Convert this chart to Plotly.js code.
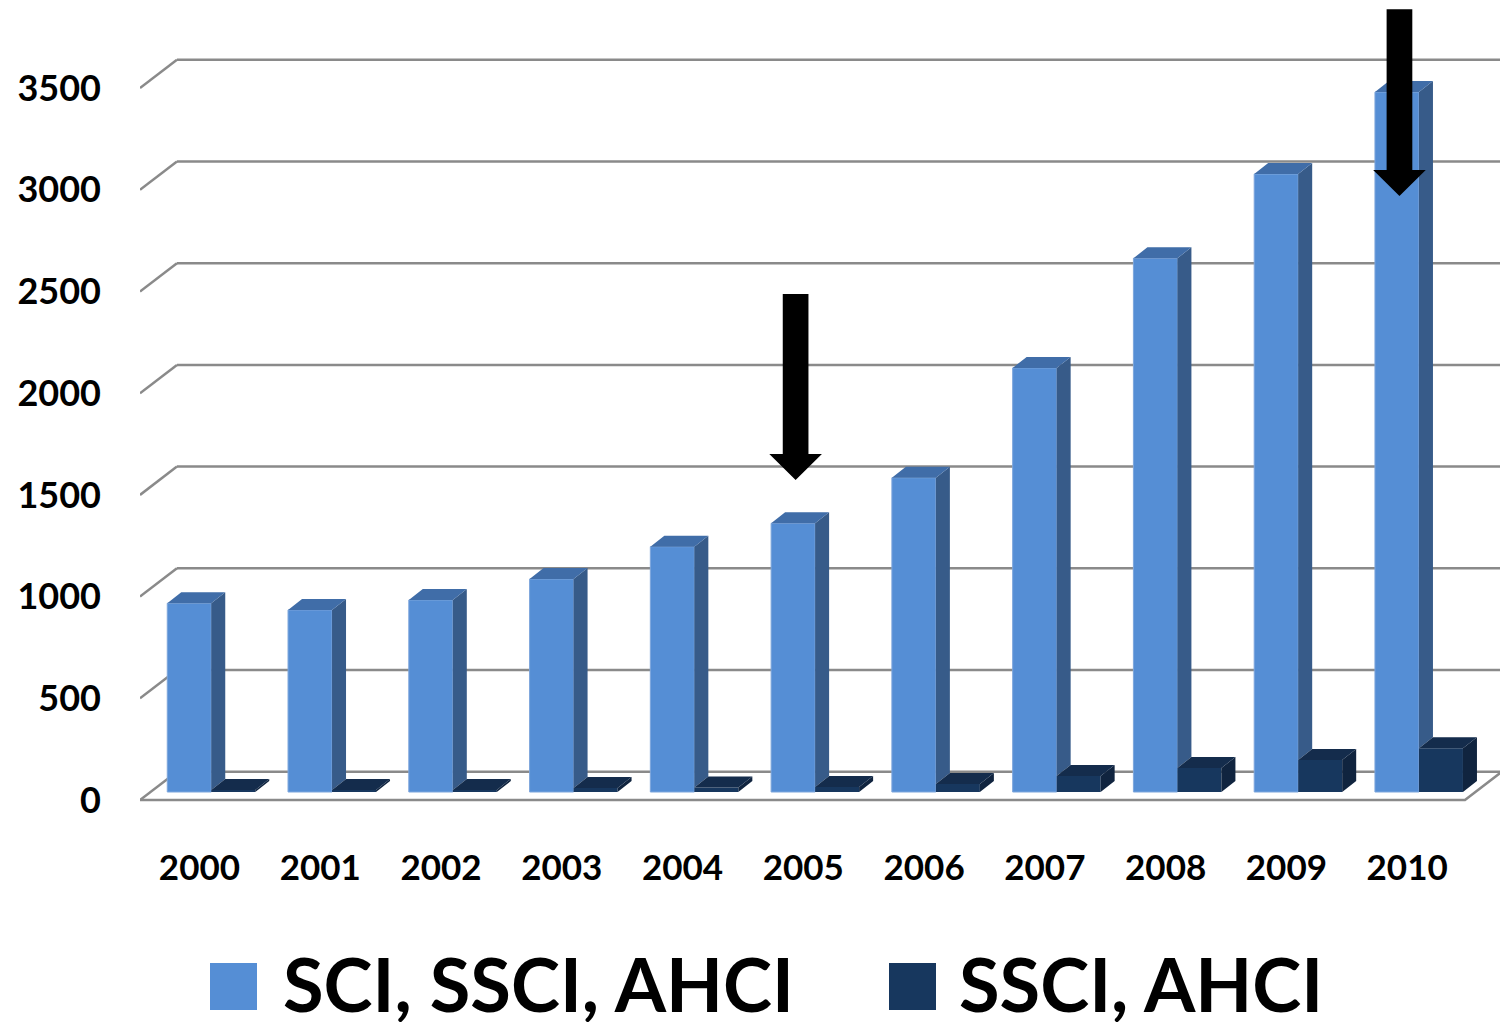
<!DOCTYPE html>
<html>
<head>
<meta charset="utf-8">
<script src="https://cdn.plot.ly/plotly-3.0.1.min.js"></script>
<style>html,body{margin:0;padding:0;background:#fff;}#chart{width:1500px;height:1022px;}</style>
</head>
<body>
<div id="chart"></div>
<script>
// ---- data ----
const years = ['2000','2001','2002','2003','2004','2005','2006','2007','2008','2009','2010'];
const allIndexes = [928, 895, 944, 1047, 1206, 1321, 1545, 2085, 2624, 3038, 3441];   // SCI, SSCI, AHCI
const socialIndexes = [10, 10, 10, 20, 22, 25, 39, 79, 118, 157, 215];               // SSCI, AHCI
const seriesNames = ['SCI, SSCI, AHCI', 'SSCI, AHCI'];
const yTicks = [0, 500, 1000, 1500, 2000, 2500, 3000, 3500];
const arrowYears = ['2005', '2010'];
const arrowTop = [2448, 3848];
const arrowTip = [1534, 2930];

// ---- style / geometry (pseudo-3D) ----
const PX_PER_CAT = 120.77, PX_PER_UNIT = 0.2034;
const X_MIN = -0.590, X_MAX = 10.671, Y_MIN = -186.8, Y_MAX = 3893.8;
const BAR_W = 44 / PX_PER_CAT;
const DX = 14 / PX_PER_CAT, DY = 11 / PX_PER_UNIT;          // bar depth
const FRONT_DV = -8 / PX_PER_UNIT;                          // floor front plane
const WALL_DV = 20.3 / PX_PER_UNIT;                         // back wall plane
const X_WALL_LEFT = (177 - 211.3) / PX_PER_CAT;
const X_FRONT_RIGHT = (1465 - 211.3) / PX_PER_CAT;
const LABEL_DX = -11.8 / PX_PER_CAT;
const ARROW_DX = -19.5 / PX_PER_CAT;
const SHAFT_HW = 12.85 / PX_PER_CAT, HEAD_HW = 26.3 / PX_PER_CAT, HEAD_LEN = 26 / PX_PER_UNIT;

const C = {
  blueFront: '#558ED5', blueSide: '#375B89', blueTop: '#406DA8',
  darkFront: '#17375E', darkSide: '#10243F', darkTop: '#142C4C',
  grid: '#8A8A8A'
};
const FONT = 'Lato, "Open Sans", sans-serif';
const idx = years.map((_, i) => i);

function polyTrace(polys, color) {
  const x = [], y = [];
  polys.forEach(p => { p.forEach(pt => { x.push(pt[0]); y.push(pt[1]); }); x.push(p[0][0]); y.push(p[0][1]); x.push(null); y.push(null); });
  return { type: 'scatter', mode: 'lines', x, y, fill: 'toself', fillcolor: color,
           line: { width: 0, color: color }, hoverinfo: 'skip', showlegend: false, connectgaps: false };
}

const blueSide = idx.map(i => { const xr = i, d = socialIndexes[i], v = allIndexes[i];
  return [[xr, d], [xr + DX, d + DY], [xr + DX, v + DY], [xr, v]]; });
const blueTop = idx.map(i => { const xl = i - BAR_W, v = allIndexes[i];
  return [[xl, v], [xl + BAR_W, v], [xl + BAR_W + DX, v + DY], [xl + DX, v + DY]]; });
const darkSide = idx.map(i => { const xr = i + BAR_W, d = socialIndexes[i];
  return [[xr, 0], [xr + DX, DY], [xr + DX, d + DY], [xr, d]]; });
const darkTop = idx.map(i => { const xl = i, d = socialIndexes[i];
  return [[xl, d], [xl + BAR_W, d], [xl + BAR_W + DX, d + DY], [xl + DX, d + DY]]; });

const data = [
  { type: 'bar', name: seriesNames[0], x: idx, y: allIndexes, width: BAR_W, offset: -BAR_W,
    marker: { color: C.blueFront, line: { width: 1, color: '#7DA6DC' } }, showlegend: false },
  { type: 'bar', name: seriesNames[1], x: idx, y: socialIndexes, width: BAR_W, offset: 0,
    marker: { color: C.darkFront, line: { width: 0 } }, showlegend: false },
  polyTrace(blueSide, C.blueSide),
  polyTrace(blueTop, C.blueTop),
  polyTrace(darkSide, C.darkSide),
  polyTrace(darkTop, C.darkTop)
];

// gridlines (walls)
const shapes = [];
const gl = { color: C.grid, width: 2.5 };
yTicks.forEach(t => {
  shapes.push({ type: 'line', layer: 'below', xref: 'x', yref: 'y', x0: X_WALL_LEFT, x1: X_MAX + 0.05, y0: t + WALL_DV, y1: t + WALL_DV, line: gl });
  shapes.push({ type: 'line', layer: 'below', xref: 'x', yref: 'y', x0: X_MIN, x1: X_WALL_LEFT, y0: t + FRONT_DV, y1: t + WALL_DV, line: gl });
});
shapes.push({ type: 'path', layer: 'below', xref: 'x', yref: 'y',
  path: `M${X_MIN},${FRONT_DV} L${X_FRONT_RIGHT},${FRONT_DV} L${X_FRONT_RIGHT + (X_WALL_LEFT - X_MIN)},${WALL_DV}`, line: gl });

// arrows
arrowYears.forEach((yr, k) => {
  const cx = years.indexOf(yr) + ARROW_DX, top = arrowTop[k], tip = arrowTip[k], hb = tip + HEAD_LEN;
  const p = `M${cx - SHAFT_HW},${top} L${cx + SHAFT_HW},${top} L${cx + SHAFT_HW},${hb} L${cx + HEAD_HW},${hb} L${cx},${tip} L${cx - HEAD_HW},${hb} L${cx - SHAFT_HW},${hb} Z`;
  shapes.push({ type: 'path', layer: 'above', xref: 'x', yref: 'y', path: p, fillcolor: '#000', line: { width: 0 } });
});

// custom legend
const px2x = px => (px - 140) / 1360, py2y = py => (830 - py) / 830;
const legendColors = [C.blueFront, C.darkFront];
const legSq = [210, 889], legTx = [281, 957];
const annotations = [];
seriesNames.forEach((nm, k) => {
  shapes.push({ type: 'rect', xref: 'paper', yref: 'paper', x0: px2x(legSq[k]), x1: px2x(legSq[k] + 47),
    y0: py2y(1010), y1: py2y(963), fillcolor: legendColors[k], line: { width: 0 } });
  annotations.push({ xref: 'paper', yref: 'paper', x: px2x(legTx[k]), y: py2y(983), xanchor: 'left', yanchor: 'middle',
    text: nm, showarrow: false, font: { family: FONT, size: 74, weight: 'bold', color: '#000' } });
});

const layout = {
  width: 1500, height: 1022,
  margin: { l: 140, r: 0, t: 0, b: 192 },
  paper_bgcolor: '#fff', plot_bgcolor: 'rgba(0,0,0,0)',
  showlegend: false,
  xaxis: { range: [X_MIN, X_MAX], showgrid: false, zeroline: false, showline: false, ticks: '',
    tickmode: 'array', tickvals: idx.map(i => i + LABEL_DX), ticktext: years, ticklabelstandoff: 14,
    tickfont: { family: FONT, size: 35, weight: 'bold', color: '#000' } },
  yaxis: { range: [Y_MIN, Y_MAX], showgrid: false, zeroline: false, showline: false, ticks: '',
    tickmode: 'array', tickvals: yTicks.map(t => t + FRONT_DV), ticktext: yTicks.map(String), ticklabelstandoff: 38,
    tickfont: { family: FONT, size: 36, weight: 'bold', color: '#000' } },
  shapes, annotations
};

Plotly.newPlot('chart', data, layout, { staticPlot: true, displayModeBar: false });
</script>
</body>
</html>
